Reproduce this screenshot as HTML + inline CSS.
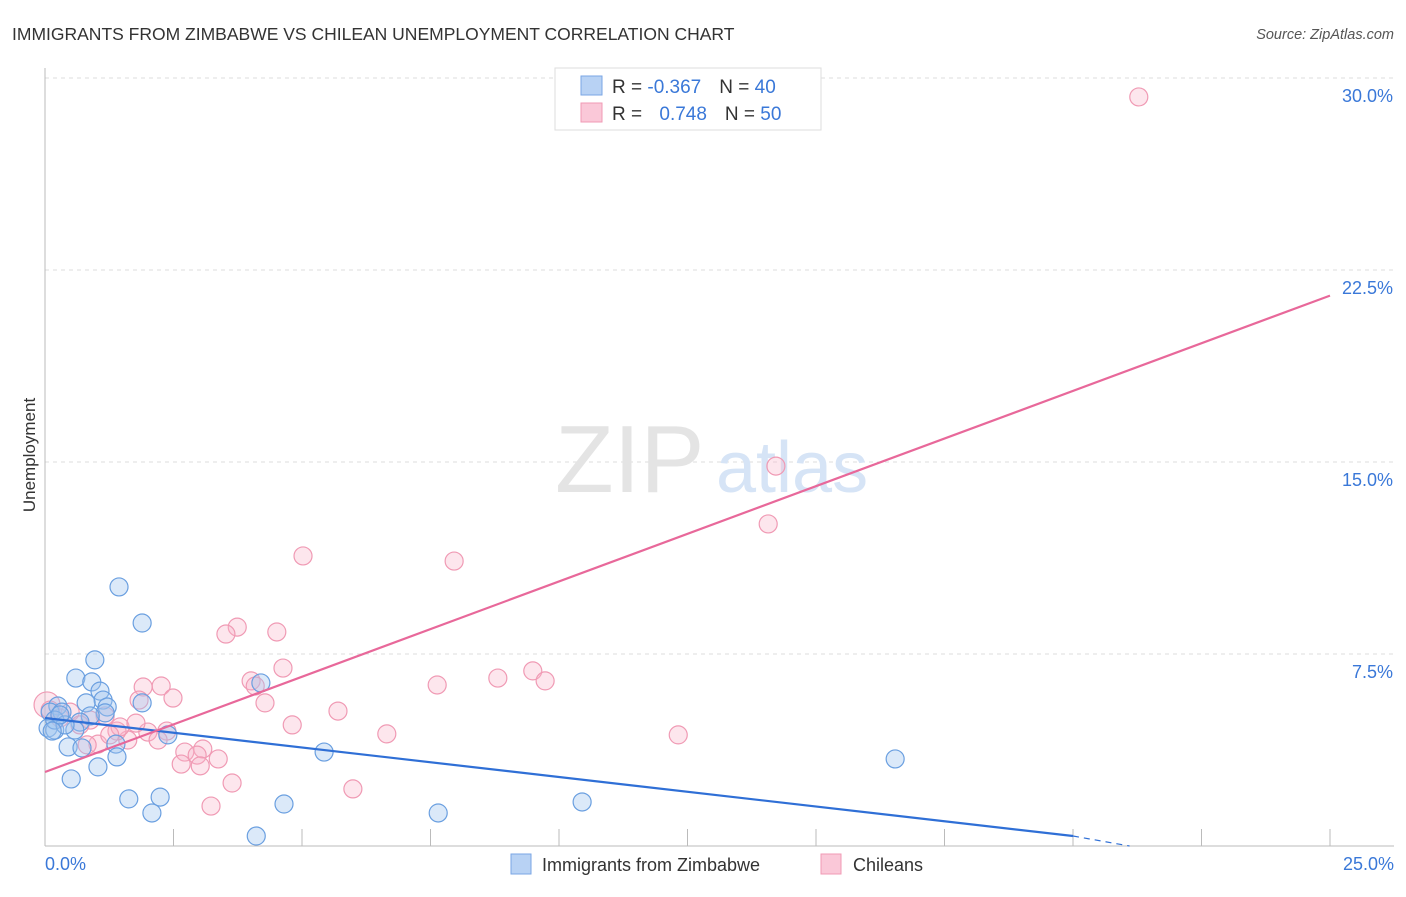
<!DOCTYPE html>
<html><head><meta charset="utf-8"><style>
body{margin:0;background:#fff;font-family:"Liberation Sans",sans-serif;}
svg text{font-family:"Liberation Sans",sans-serif;}
</style></head><body>
<svg width="1406" height="892" viewBox="0 0 1406 892">
<text x="12" y="40" font-size="17.5" fill="#333">IMMIGRANTS FROM ZIMBABWE VS CHILEAN UNEMPLOYMENT CORRELATION CHART</text>
<text x="1394" y="39" font-size="14.5" fill="#555" text-anchor="end" font-style="italic">Source: ZipAtlas.com</text>
<g id="grid"></g>
<g>
<text x="555" y="492" font-size="96" fill="#e4e4e4" font-family="Liberation Serif, serif">ZIP</text>
<text x="716" y="492" font-size="72" fill="#d6e4f6">atlas</text>
</g>
<g id="pts"></g>
<g id="lines"></g>
<text x="35" y="455" font-size="17" fill="#333" text-anchor="middle" transform="rotate(-90 35 455)">Unemployment</text>
<text x="45" y="870" font-size="18" fill="#3a78d8">0.0%</text>
<text x="1394" y="870" font-size="18" fill="#3a78d8" text-anchor="end">25.0%</text>
<g>
<rect x="555" y="68" width="266" height="62" fill="#fff" stroke="#ddd"/>
<rect x="581" y="76" width="21" height="19" fill="#b8d2f4" stroke="#7aa6e4"/>
<rect x="581" y="103" width="21" height="19" fill="#fac8d8" stroke="#f09ab4"/>
<text x="612" y="93" font-size="19" fill="#333">R = <tspan fill="#3a78d8">-0.367</tspan><tspan dx="18">N = </tspan><tspan fill="#3a78d8">40</tspan></text>
<text x="612" y="120" font-size="19" fill="#333">R = <tspan fill="#3a78d8" dx="12">0.748</tspan><tspan dx="18">N = </tspan><tspan fill="#3a78d8">50</tspan></text>
</g>
<g>
<rect x="511" y="854" width="20" height="20" fill="#b8d2f4" stroke="#7aa6e4"/>
<text x="542" y="871" font-size="18" fill="#333">Immigrants from Zimbabwe</text>
<rect x="821" y="854" width="20" height="20" fill="#fac8d8" stroke="#f09ab4"/>
<text x="853" y="871" font-size="18" fill="#333">Chileans</text>
</g>
</svg>
<script>
const yTicks=[7.5,15,22.5,30];
const yTickLabels=["7.5%","15.0%","22.5%","30.0%"];
const xTicks=[0,2.5,5,7.5,10,12.5,15,17.5,20,22.5,25];
const blueX=[1.44,1.89,0.97,0.60,0.91,1.07,1.13,1.21,0.80,0.25,0.10,0.33,1.17,0.88,0.68,0.58,0.06,0.19,0.45,0.72,1.38,1.40,1.03,0.51,1.63,2.24,2.08,4.11,4.65,4.20,1.89,2.39,5.43,7.65,10.45,16.54,0.19,0.39,0.14,0.29];
const blueY=[10.12,8.71,7.27,6.56,6.41,6.05,5.70,5.43,5.59,5.47,5.23,5.23,5.20,5.08,4.84,4.53,4.61,4.53,3.87,3.83,3.98,3.48,3.09,2.62,1.84,1.91,1.29,0.39,1.64,6.37,5.59,4.34,3.67,1.29,1.72,3.40,4.92,4.73,4.49,5.12];
const pinkX=[21.28,14.22,14.07,5.02,7.96,3.74,3.52,4.51,4.63,4.01,4.09,4.28,2.26,1.91,2.49,1.83,9.49,9.73,8.81,7.63,5.70,4.81,6.65,12.32,2.37,2.00,1.61,2.20,1.40,1.03,0.82,2.72,3.07,2.96,3.37,2.65,3.02,3.64,3.23,5.99,1.17,0.88,0.29,0.04,0.10,0.49,0.68,1.46,1.77,1.26];
const pinkY=[29.26,14.84,12.58,11.33,11.13,8.55,8.28,8.36,6.95,6.45,6.25,5.59,6.25,6.21,5.78,5.70,6.84,6.45,6.56,6.29,5.27,4.73,4.38,4.34,4.49,4.45,4.14,4.14,4.49,3.98,3.95,3.67,3.79,3.55,3.40,3.20,3.13,2.46,1.56,2.23,5.08,4.92,5.00,5.51,5.31,5.23,4.73,4.65,4.80,4.34];
const blueTrendX=[0,20,21.1];
const blueTrendY=[5.0,0.39,0.0];
const pinkTrendX=[0,25];
const pinkTrendY=[2.89,21.5];
const NS="http://www.w3.org/2000/svg";
const xs=v=>45+v*51.4, ys=v=>846-v*25.6;
function mk(t,a,p){const e=document.createElementNS(NS,t);for(const k in a)e.setAttribute(k,a[k]);p.appendChild(e);return e;}
const grid=document.getElementById('grid');
yTicks.forEach((t,i)=>{
 const l=mk('line',{x1:45,x2:1394,y1:ys(t),y2:ys(t),stroke:'#ddd','stroke-dasharray':'4,4'},grid);
 
 
 const tx=mk('text',{x:1393,y:ys(t)+24,'font-size':18,fill:'#3a78d8','text-anchor':'end'},grid);
 tx.textContent=yTickLabels[i];
 
 
});
const ax=mk('line',{x1:45,x2:45,y1:68,y2:846,stroke:'#bbb'},grid);


const bx=mk('line',{x1:45,x2:1394,y1:846,y2:846,stroke:'#bbb'},grid);


xTicks.forEach(t=>{
 const l=mk('line',{x1:xs(t),x2:xs(t),y1:829,y2:846,stroke:'#bbb'},grid);
 
 
});
const pts=document.getElementById('pts');
pinkX.forEach((x,i)=>{
 const c=mk('circle',{cx:xs(x),cy:ys(pinkY[i]),r:(i===43?13:9),fill:'rgba(248,178,200,0.33)',stroke:'#f09ab4','stroke-width':1.2},pts);
 
 
});
blueX.forEach((x,i)=>{
 const c=mk('circle',{cx:xs(x),cy:ys(blueY[i]),r:9,fill:'rgba(160,196,240,0.38)',stroke:'#6a9fe0','stroke-width':1.2},pts);
 
 
});
const lines=document.getElementById('lines');
const b1=mk('line',{x1:xs(blueTrendX[0]),y1:ys(blueTrendY[0]),x2:xs(blueTrendX[1]),y2:ys(blueTrendY[1]),stroke:'#2f6fd6','stroke-width':2.2},lines);


const b2=mk('line',{x1:xs(blueTrendX[1]),y1:ys(blueTrendY[1]),x2:xs(blueTrendX[2]),y2:ys(blueTrendY[2]),stroke:'#2f6fd6','stroke-width':1.2,'stroke-dasharray':'6,5'},lines);


const p1=mk('line',{x1:xs(pinkTrendX[0]),y1:ys(pinkTrendY[0]),x2:xs(pinkTrendX[1]),y2:ys(pinkTrendY[1]),stroke:'#e8689a','stroke-width':2.2},lines);


</script>
</body></html>
